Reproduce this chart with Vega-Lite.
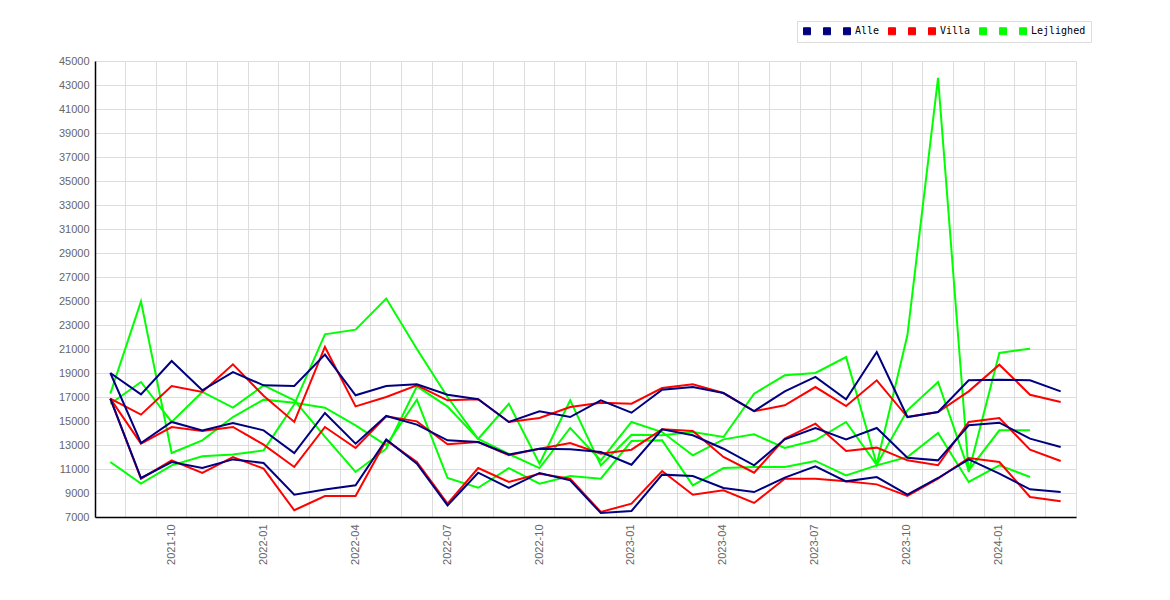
{
  "$schema": "https://vega.github.io/schema/vega-lite/v6.json",
  "autosize": {"type": "none"},
  "padding": {"left": 95, "top": 61, "right": 94, "bottom": 83},
  "width": 981,
  "height": 456,
  "background": "white",
  "config": {
    "view": {"stroke": "#dddddd"},
    "axis": {
      "labelFont": "Liberation Sans",
      "labelFontSize": 11,
      "labelColor": "#666666",
      "gridColor": "#dddddd",
      "gridWidth": 1,
      "domainColor": "black",
      "domainWidth": 1.5,
      "ticks": false,
      "title": null
    }
  },
  "data": {
    "values": [
      {"m": "2021-08", "Alle_1": 19000, "Alle_2": 19000, "Alle": 16860, "Villa_1": 16860, "Villa_2": 16860, "Villa": 16860, "Lejlighed_1": 16440, "Lejlighed_2": 17280, "Lejlighed": 11580},
      {"m": "2021-09", "Alle_1": 17220, "Alle_2": 13170, "Alle": 10250, "Villa_1": 15530, "Villa_2": 13110, "Villa": 10190, "Lejlighed_1": 18250, "Lejlighed_2": 24970, "Lejlighed": 9780},
      {"m": "2021-10", "Alle_1": 20000, "Alle_2": 14920, "Alle": 11580, "Villa_1": 17920, "Villa_2": 14500, "Villa": 11720, "Lejlighed_1": 14920, "Lejlighed_2": 12330, "Lejlighed": 11300},
      {"m": "2021-11", "Alle_1": 17560, "Alle_2": 14220, "Alle": 11080, "Villa_1": 17420, "Villa_2": 14170, "Villa": 10670, "Lejlighed_1": 17420, "Lejlighed_2": 13390, "Lejlighed": 12060},
      {"m": "2021-12", "Alle_1": 19080, "Alle_2": 14830, "Alle": 11800, "Villa_1": 19720, "Villa_2": 14500, "Villa": 12000, "Lejlighed_1": 16110, "Lejlighed_2": 15330, "Lejlighed": 12200},
      {"m": "2022-01", "Alle_1": 17970, "Alle_2": 14220, "Alle": 11500, "Villa_1": 17100, "Villa_2": 13030, "Villa": 11030, "Lejlighed_1": 17970, "Lejlighed_2": 16780, "Lejlighed": 12550},
      {"m": "2022-02", "Alle_1": 17920, "Alle_2": 12330, "Alle": 8860, "Villa_1": 14920, "Villa_2": 11170, "Villa": 7560, "Lejlighed_1": 16720, "Lejlighed_2": 16530, "Lejlighed": 16390},
      {"m": "2022-03", "Alle_1": 20530, "Alle_2": 15670, "Alle": 9300, "Villa_1": 21170, "Villa_2": 14500, "Villa": 8750, "Lejlighed_1": 13700, "Lejlighed_2": 16110, "Lejlighed": 22220},
      {"m": "2022-04", "Alle_1": 17140, "Alle_2": 13110, "Alle": 9640, "Villa_1": 16220, "Villa_2": 12750, "Villa": 8750, "Lejlighed_1": 10750, "Lejlighed_2": 14640, "Lejlighed": 22610},
      {"m": "2022-05", "Alle_1": 17920, "Alle_2": 15420, "Alle": 13470, "Villa_1": 17000, "Villa_2": 15390, "Villa": 13390, "Lejlighed_1": 12690, "Lejlighed_2": 12970, "Lejlighed": 25200},
      {"m": "2022-06", "Alle_1": 18060, "Alle_2": 14700, "Alle": 11440, "Villa_1": 17970, "Villa_2": 14970, "Villa": 11580, "Lejlighed_1": 17890, "Lejlighed_2": 16780, "Lejlighed": 21000},
      {"m": "2022-07", "Alle_1": 17190, "Alle_2": 13390, "Alle": 7970, "Villa_1": 16720, "Villa_2": 13060, "Villa": 8110, "Lejlighed_1": 16200, "Lejlighed_2": 10250, "Lejlighed": 17000},
      {"m": "2022-08", "Alle_1": 16810, "Alle_2": 13250, "Alle": 10690, "Villa_1": 16810, "Villa_2": 13250, "Villa": 11080, "Lejlighed_1": 13500, "Lejlighed_2": 9440, "Lejlighed": 13500},
      {"m": "2022-09", "Alle_1": 14920, "Alle_2": 12220, "Alle": 9420, "Villa_1": 14920, "Villa_2": 12140, "Villa": 9920, "Lejlighed_1": 16440, "Lejlighed_2": 11080, "Lejlighed": 12250},
      {"m": "2022-10", "Alle_1": 15810, "Alle_2": 12690, "Alle": 10670, "Villa_1": 15250, "Villa_2": 12690, "Villa": 10610, "Lejlighed_1": 11440, "Lejlighed_2": 9780, "Lejlighed": 11080},
      {"m": "2022-11", "Alle_1": 15330, "Alle_2": 12640, "Alle": 10060, "Villa_1": 16170, "Villa_2": 13170, "Villa": 10190, "Lejlighed_1": 16720, "Lejlighed_2": 10420, "Lejlighed": 14420},
      {"m": "2022-12", "Alle_1": 16720, "Alle_2": 12420, "Alle": 7330, "Villa_1": 16530, "Villa_2": 12280, "Villa": 7420, "Lejlighed_1": 11300, "Lejlighed_2": 10190, "Lejlighed": 11720},
      {"m": "2023-01", "Alle_1": 15690, "Alle_2": 11360, "Alle": 7500, "Villa_1": 16440, "Villa_2": 12610, "Villa": 8110, "Lejlighed_1": 13860, "Lejlighed_2": 13330, "Lejlighed": 14920},
      {"m": "2023-02", "Alle_1": 17610, "Alle_2": 14310, "Alle": 10530, "Villa_1": 17750, "Villa_2": 14310, "Villa": 10830, "Lejlighed_1": 13810, "Lejlighed_2": 13390, "Lejlighed": 14080},
      {"m": "2023-03", "Alle_1": 17830, "Alle_2": 13810, "Alle": 10420, "Villa_1": 18060, "Villa_2": 14170, "Villa": 8860, "Lejlighed_1": 14080, "Lejlighed_2": 9640, "Lejlighed": 12140},
      {"m": "2023-04", "Alle_1": 17330, "Alle_2": 12690, "Alle": 9420, "Villa_1": 17330, "Villa_2": 12000, "Villa": 9220, "Lejlighed_1": 13670, "Lejlighed_2": 11080, "Lejlighed": 13470},
      {"m": "2023-05", "Alle_1": 15830, "Alle_2": 11310, "Alle": 9080, "Villa_1": 15810, "Villa_2": 10690, "Villa": 8170, "Lejlighed_1": 17280, "Lejlighed_2": 11170, "Lejlighed": 13890},
      {"m": "2023-06", "Alle_1": 17470, "Alle_2": 13470, "Alle": 10280, "Villa_1": 16310, "Villa_2": 13530, "Villa": 10190, "Lejlighed_1": 18810, "Lejlighed_2": 11170, "Lejlighed": 12750},
      {"m": "2023-07", "Alle_1": 18670, "Alle_2": 14420, "Alle": 11220, "Villa_1": 17830, "Villa_2": 14780, "Villa": 10190, "Lejlighed_1": 19000, "Lejlighed_2": 11670, "Lejlighed": 13390},
      {"m": "2023-08", "Alle_1": 16810, "Alle_2": 13470, "Alle": 9970, "Villa_1": 16250, "Villa_2": 12500, "Villa": 9970, "Lejlighed_1": 20330, "Lejlighed_2": 10470, "Lejlighed": 14920},
      {"m": "2023-09", "Alle_1": 20750, "Alle_2": 14420, "Alle": 10330, "Villa_1": 18390, "Villa_2": 12780, "Villa": 9720, "Lejlighed_1": 11400, "Lejlighed_2": 11300, "Lejlighed": 11350},
      {"m": "2023-10", "Alle_1": 15330, "Alle_2": 11940, "Alle": 8860, "Villa_1": 15330, "Villa_2": 11720, "Villa": 8750, "Lejlighed_1": 22140, "Lejlighed_2": 12000, "Lejlighed": 15890},
      {"m": "2023-11", "Alle_1": 15750, "Alle_2": 11720, "Alle": 10250, "Villa_1": 15750, "Villa_2": 11310, "Villa": 10200, "Lejlighed_1": 43600, "Lejlighed_2": 14000, "Lejlighed": 18250},
      {"m": "2023-12", "Alle_1": 18390, "Alle_2": 14640, "Alle": 11810, "Villa_1": 17470, "Villa_2": 14920, "Villa": 11920, "Lejlighed_1": 10750, "Lejlighed_2": 9920, "Lejlighed": 10890},
      {"m": "2024-01", "Alle_1": 18440, "Alle_2": 14860, "Alle": 10610, "Villa_1": 19690, "Villa_2": 15250, "Villa": 11580, "Lejlighed_1": 20670, "Lejlighed_2": 11310, "Lejlighed": 14220},
      {"m": "2024-02", "Alle_1": 18390, "Alle_2": 13530, "Alle": 9310, "Villa_1": 17190, "Villa_2": 12610, "Villa": 8670, "Lejlighed_1": 21030, "Lejlighed_2": 10330, "Lejlighed": 14220},
      {"m": "2024-03", "Alle_1": 17470, "Alle_2": 12830, "Alle": 9080, "Villa_1": 16580, "Villa_2": 11670, "Villa": 8310}
    ]
  },
  "transform": [
    {"fold": ["Lejlighed_1", "Lejlighed_2", "Lejlighed", "Villa_1", "Villa_2", "Villa", "Alle_1", "Alle_2", "Alle"], "as": ["serie", "v"]},
    {"filter": "isValid(datum.v)"}
  ],
  "mark": {"type": "line", "strokeWidth": 2},
  "encoding": {
    "x": {
      "field": "m",
      "type": "ordinal",
      "scale": {"type": "band", "paddingInner": 0, "paddingOuter": 0},
      "axis": {
        "grid": true,
        "bandPosition": 0,
        "labelAngle": -90,
        "labelPadding": 7,
        "labelOverlap": false,
        "labelExpr": "(+slice(datum.value, 5)) % 3 == 1 ? datum.value : ''"
      }
    },
    "y": {
      "field": "v",
      "type": "quantitative",
      "scale": {"domain": [7000, 45000], "nice": false, "zero": false},
      "axis": {
        "values": [7000, 9000, 11000, 13000, 15000, 17000, 19000, 21000, 23000, 25000, 27000, 29000, 31000, 33000, 35000, 37000, 39000, 41000, 43000, 45000],
        "format": "d",
        "labelPadding": 6,
        "labelFlush": false
      }
    },
    "color": {
      "field": "serie",
      "type": "nominal",
      "scale": {
        "domain": ["Alle_1", "Alle_2", "Alle", "Villa_1", "Villa_2", "Villa", "Lejlighed_1", "Lejlighed_2", "Lejlighed"],
        "range": ["#000080", "#000080", "#000080", "#ff0000", "#ff0000", "#ff0000", "#00ff00", "#00ff00", "#00ff00"]
      },
      "legend": {
        "title": null,
        "orient": "none",
        "legendX": 702,
        "legendY": -40,
        "direction": "horizontal",
        "columns": 9,
        "padding": 5,
        "columnPadding": 6,
        "labelOffset": 3,
        "symbolType": "square",
        "symbolSize": 49,
        "symbolStrokeWidth": 1,
        "labelFont": "DejaVu Sans Mono",
        "labelFontSize": 10,
        "labelColor": "black",
        "strokeColor": "#dddddd",
        "fillColor": "white",
        "labelExpr": "test(/_/, datum.label) ? ' ' : datum.label",
        "encode": {
          "symbols": {
            "update": {
              "fill": {"scale": "color", "field": "value"},
              "stroke": {"value": "#555555"},
              "fillOpacity": {"value": 1},
              "strokeWidth": {"value": 1}
            }
          }
        }
      }
    }
  }
}
